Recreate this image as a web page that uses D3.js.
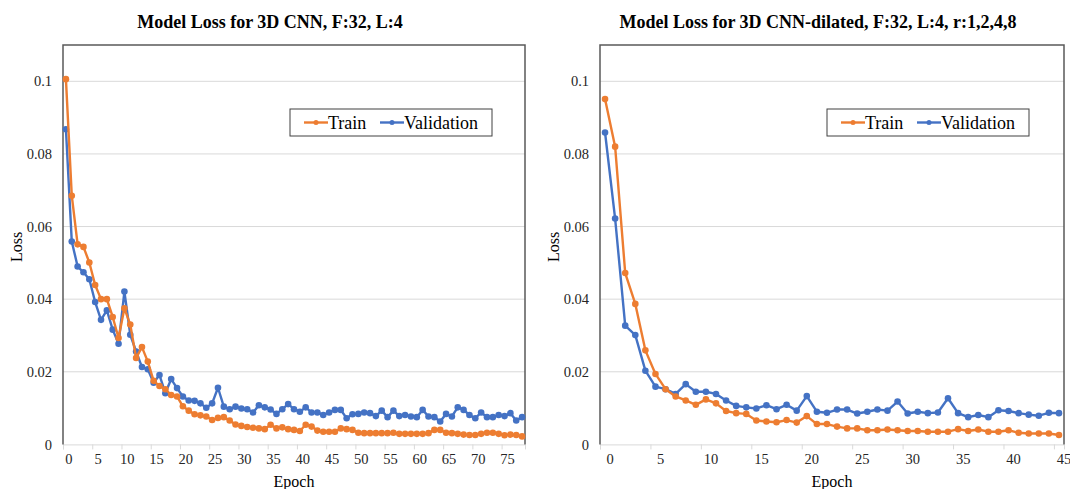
<!DOCTYPE html>
<html>
  <head>
    <title>Model Loss</title>
    <script src="https://d3js.org/d3.v7.min.js"></script>
    <style>
      body { margin: 0; background: #fff; }
      svg { display: block; font-family: "Liberation Serif", "Times New Roman", serif; }
    </style>
  </head>
  <body>
    <div id="chart"></div>
    <script>
      // Loss values (one per epoch)
      var trainA = [
        0.1006, 0.0685, 0.0551, 0.0544, 0.0501, 0.0439, 0.0400, 0.0400, 0.0351, 0.0293,
        0.0375, 0.0330, 0.0238, 0.0268, 0.0228, 0.0175, 0.0161, 0.0152, 0.0136, 0.0132,
        0.0105, 0.0093, 0.0083, 0.0080, 0.0077, 0.0067, 0.0073, 0.0075, 0.0066, 0.0055,
        0.0051, 0.0048, 0.0046, 0.0044, 0.0042, 0.0054, 0.0044, 0.0047, 0.0042, 0.0040,
        0.0037, 0.0054, 0.0049, 0.0038, 0.0035, 0.0035, 0.0035, 0.0044, 0.0042, 0.0040,
        0.0032, 0.0031, 0.0031, 0.0031, 0.0031, 0.0031, 0.0032, 0.0029, 0.0029, 0.0029,
        0.0029, 0.0029, 0.0031, 0.0040, 0.0040, 0.0032, 0.0031, 0.0029, 0.0027, 0.0026,
        0.0026, 0.0029, 0.0032, 0.0032, 0.0029, 0.0025, 0.0027, 0.0026, 0.0022
      ];
      var valA = [
        0.0868, 0.0559, 0.0490, 0.0474, 0.0455, 0.0392, 0.0343, 0.0369, 0.0316, 0.0277,
        0.0421, 0.0302, 0.0256, 0.0213, 0.0207, 0.0170, 0.0191, 0.0141, 0.0180, 0.0155,
        0.0132, 0.0121, 0.0120, 0.0113, 0.0101, 0.0113, 0.0156, 0.0104, 0.0097, 0.0104,
        0.0099, 0.0097, 0.0088, 0.0108, 0.0102, 0.0096, 0.0084, 0.0097, 0.0111, 0.0097,
        0.0090, 0.0102, 0.0088, 0.0088, 0.0081, 0.0088, 0.0095, 0.0095, 0.0072, 0.0083,
        0.0084, 0.0088, 0.0086, 0.0078, 0.0093, 0.0075, 0.0093, 0.0078, 0.0081, 0.0077,
        0.0075, 0.0095, 0.0077, 0.0075, 0.0063, 0.0084, 0.0077, 0.0102, 0.0095, 0.0081,
        0.0072, 0.0088, 0.0075, 0.0075, 0.0081, 0.0078, 0.0086, 0.0066, 0.0075
      ];
      var trainB = [
        0.0951, 0.0820, 0.0472, 0.0387, 0.0259, 0.0194, 0.0152, 0.0132, 0.0121, 0.0109,
        0.0124, 0.0113, 0.0092, 0.0086, 0.0084, 0.0066, 0.0063, 0.0061, 0.0067, 0.0060,
        0.0078, 0.0056, 0.0056, 0.0049, 0.0044, 0.0044, 0.0039, 0.0039, 0.0041, 0.0039,
        0.0037, 0.0037, 0.0035, 0.0035, 0.0035, 0.0042, 0.0037, 0.0041, 0.0035, 0.0035,
        0.0039, 0.0032, 0.0030, 0.0030, 0.0030, 0.0026
      ];
      var valB = [
        0.0859, 0.0622, 0.0327, 0.0301, 0.0203, 0.0159, 0.0152, 0.0139, 0.0166, 0.0145,
        0.0145, 0.0139, 0.0121, 0.0106, 0.0102, 0.0099, 0.0108, 0.0097, 0.0109, 0.0093,
        0.0133, 0.0090, 0.0087, 0.0096, 0.0096, 0.0085, 0.0090, 0.0096, 0.0093, 0.0118,
        0.0085, 0.0090, 0.0086, 0.0088, 0.0127, 0.0086, 0.0075, 0.0081, 0.0075, 0.0094,
        0.0092, 0.0086, 0.0082, 0.0079, 0.0087, 0.0086
      ];
      var yTicks = [0, 0.02, 0.04, 0.06, 0.08, 0.1];
      var seriesNames = ["Train", "Validation"];
      var colors = ["#ED7D31", "#4472C4"];

      var svg = d3.select("#chart")
        .append("svg")
        .attr("width", 1070)
        .attr("height", 489);

      svg.append("rect").attr("width", 1070).attr("height", 489).attr("fill", "#fff");

      function drawChart(opt) {
        var n = opt.train.length;
        var epochs = d3.range(n);

        // category axis like Excel: points sit in the middle of each slot
        var x = d3.scaleBand().domain(epochs).range([opt.left, opt.right]);
        var xEdge = d3.scaleLinear().domain([0, n]).range([opt.left, opt.right]);
        var y = d3.scaleLinear().domain([0, 0.11]).range([444.4, 45]);

        var g = svg.append("g");

        // gridlines
        g.append("g")
          .selectAll("line")
          .data(yTicks.slice(1))
          .enter()
          .append("line")
          .attr("x1", opt.left).attr("x2", opt.right)
          .attr("y1", function(d) { return y(d); })
          .attr("y2", function(d) { return y(d); })
          .attr("stroke", "#d9d9d9")
          .attr("stroke-width", 1);

        // y axis labels
        var yAxis = g.append("g")
          .attr("transform", "translate(" + opt.left + ",0)")
          .call(d3.axisLeft(y).tickValues(yTicks).tickSize(0).tickPadding(11)
            .tickFormat(function(d) { return d === 0 ? "0" : String(+d.toFixed(2)); }));
        yAxis.select(".domain").remove();
        yAxis.selectAll("text").attr("font-size", 14.5).attr("fill", "#262626")
          .attr("font-family", "Liberation Serif");

        // x axis: tick marks between categories, labels at centres
        var xTicks = g.append("g")
          .attr("transform", "translate(0,444.4)")
          .call(d3.axisBottom(xEdge).tickValues(d3.range(0, n + 1, 5)).tickSize(5).tickFormat(""));
        xTicks.selectAll("line").attr("stroke", "#d9d9d9");
        xTicks.select(".domain").attr("stroke", "#d9d9d9");

        var xLabels = g.append("g")
          .attr("transform", "translate(" + (x.bandwidth() / 2) + ",444.4)")
          .call(d3.axisBottom(x).tickValues(epochs.filter(function(d) { return d % 5 === 0; }))
            .tickSize(0).tickPadding(9));
        xLabels.select(".domain").remove();
        xLabels.selectAll("text").attr("font-size", 14.5).attr("fill", "#262626")
          .attr("font-family", "Liberation Serif");

        // frame
        g.append("path")
          .attr("d", "M" + opt.left + ",444.4V45H" + opt.right + "V444.4")
          .attr("fill", "none")
          .attr("stroke", "#595959")
          .attr("stroke-width", 1.5);

        // lines + markers
        var line = d3.line()
          .x(function(d, i) { return x(i) + x.bandwidth() / 2; })
          .y(function(d) { return y(d); });

        [opt.val, opt.train].forEach(function(series, k) {
          var c = k === 0 ? colors[1] : colors[0];
          g.append("path")
            .datum(series)
            .attr("d", line)
            .attr("fill", "none")
            .attr("stroke", c)
            .attr("stroke-width", 2.4)
            .attr("stroke-linejoin", "round");
          g.append("g")
            .selectAll("circle")
            .data(series)
            .enter()
            .append("circle")
            .attr("cx", function(d, i) { return x(i) + x.bandwidth() / 2; })
            .attr("cy", function(d) { return y(d); })
            .attr("r", 3.3)
            .attr("fill", c);
        });

        // titles
        g.append("text")
          .attr("x", opt.titleX).attr("y", 28)
          .attr("text-anchor", "middle")
          .attr("font-size", 18).attr("font-weight", "bold")
          .attr("fill", "#000")
          .text(opt.title);
        g.append("text")
          .attr("x", (opt.left + opt.right) / 2).attr("y", 487)
          .attr("text-anchor", "middle")
          .attr("font-size", 16)
          .attr("fill", "#000")
          .text("Epoch");
        g.append("text")
          .attr("transform", "translate(" + (opt.left - 41) + ",247) rotate(-90)")
          .attr("text-anchor", "middle")
          .attr("font-size", 16)
          .attr("fill", "#000")
          .text("Loss");

        // legend
        var lg = g.append("g").attr("transform", "translate(" + opt.legendX + ",109)");
        lg.append("rect")
          .attr("width", 202).attr("height", 27)
          .attr("fill", "#fff")
          .attr("stroke", "#404040")
          .attr("stroke-width", 1);
        var offsets = [14, 90];
        seriesNames.forEach(function(name, i) {
          var item = lg.append("g").attr("transform", "translate(" + offsets[i] + ",0)");
          item.append("line")
            .attr("x1", 0).attr("x2", 24)
            .attr("y1", 13.5).attr("y2", 13.5)
            .attr("stroke", colors[i]).attr("stroke-width", 2.4);
          item.append("circle").attr("cx", 12).attr("cy", 13.5).attr("r", 2.5).attr("fill", colors[i]);
          item.append("text")
            .attr("x", 24).attr("y", 19.5)
            .attr("font-size", 18)
            .attr("fill", "#000")
            .text(name);
        });
      }

      drawChart({
        train: trainA, val: valA, left: 63, right: 525, titleX: 270, legendX: 290,
        title: "Model Loss for 3D CNN, F:32, L:4"
      });
      drawChart({
        train: trainB, val: valB, left: 600, right: 1064, titleX: 818, legendX: 827,
        title: "Model Loss for 3D CNN-dilated, F:32, L:4, r:1,2,4,8"
      });
    </script>
  </body>
</html>
